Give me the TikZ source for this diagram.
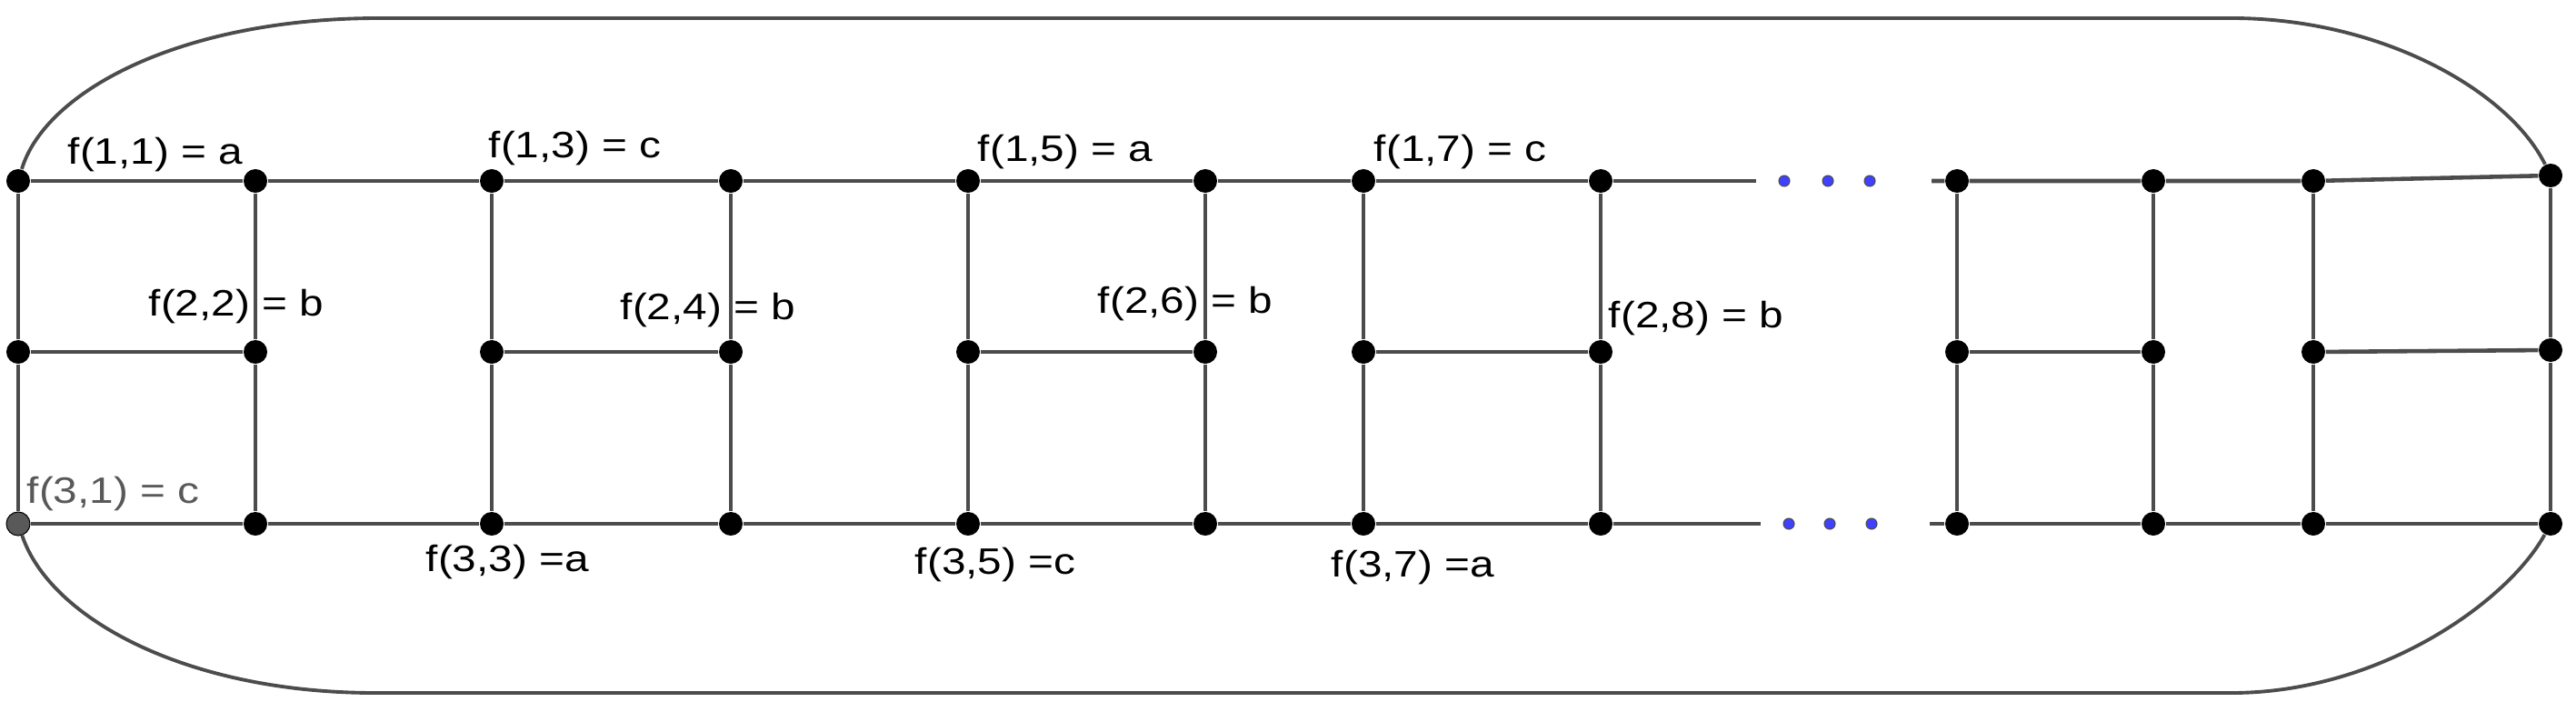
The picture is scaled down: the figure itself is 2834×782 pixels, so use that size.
\documentclass[tikz,border=0pt]{standalone}
\usepackage{fontspec}
\setmainfont{Liberation Sans}
\usetikzlibrary{calc}

\tikzset{
  vtx/.style={circle, fill=black, inner sep=0pt, minimum size=0.26cm},
  vtxgray/.style={vtx, fill=black!65, draw=black, line width=0.3pt},
  elldot/.style={circle, fill=blue!75!white, draw=black!70, line width=0.3pt, inner sep=0pt, minimum size=0.12cm},
  edge/.style={line width=1.3pt, draw=black!70},
  rim/.style={line width=1.1pt, draw=black!70},
  lbl/.style={inner sep=0pt, anchor=base west, xscale=1.18, font=\fontsize{11.5}{13}\selectfont},
}

\begin{document}
\begin{tikzpicture}[x=0.01cm, y=-0.01cm]
\useasboundingbox (0,0) rectangle (2834,782);
\node[vtx] (v-1-1) at (20,199) {};
\node[vtx] (v-2-1) at (20,387) {};
\node[vtxgray] (v-3-1) at (20,576) {};
\foreach \c/\x in {2/281,3/541,4/804,5/1065,6/1326,7/1500,8/1761,9/2153,10/2369,11/2545}{
  \node[vtx] (v-1-\c) at (\x,199) {};
  \node[vtx] (v-2-\c) at (\x,387) {};
  \node[vtx] (v-3-\c) at (\x,576) {};
}
\node[vtx] (v-1-12) at (2806,193) {};
\node[vtx] (v-2-12) at (2806,385) {};
\node[vtx] (v-3-12) at (2806,576) {};
\coordinate (e-1) at (1932,199);
\coordinate (e-3) at (1937,576);
\coordinate (s-1) at (2125,199);
\coordinate (s-3) at (2123,576);
\foreach \r in {1,3} {
  \draw[edge] (v-\r-1) -- (v-\r-2) -- (v-\r-3) -- (v-\r-4) -- (v-\r-5) -- (v-\r-6) -- (v-\r-7) -- (v-\r-8) -- (e-\r);
  \draw[edge] (s-\r) -- (v-\r-9) -- (v-\r-10) -- (v-\r-11) -- (v-\r-12);
}
\foreach \c in {1,...,12} \draw[edge] (v-1-\c) -- (v-2-\c) -- (v-3-\c);
\foreach \a/\b in {1/2,3/4,5/6,7/8,9/10,11/12} \draw[edge] (v-2-\a) -- (v-2-\b);
\foreach \i/\x in {1/1963,2/2011,3/2057} \node[elldot] (dt-\i) at (\x,199) {};
\foreach \i/\x in {1/1968,2/2013,3/2059} \node[elldot] (db-\i) at (\x,576) {};
\coordinate (tl) at (417,20);
\coordinate (tr) at (2455,20);
\coordinate (bl) at (413,762);
\coordinate (br) at (2455,762);
\draw[rim] (v-1-1) .. controls (50,100) and (200,20) .. (tl) -- (tr) .. controls (2620,20) and (2760,100) .. (v-1-12);
\draw[rim] (v-3-1) .. controls (55,680) and (205,762) .. (bl) -- (br) .. controls (2620,762) and (2760,660) .. (v-3-12);
\node[lbl] (l-1-1) at (74,180) {f(1,1) = a};
\node[lbl] (l-1-3) at (537,174) {f(1,3) = c};
\node[lbl] (l-1-5) at (1075,177) {f(1,5) = a};
\node[lbl] (l-1-7) at (1511,177) {f(1,7) = c};
\node[lbl] (l-2-2) at (163,347) {f(2,2) = b};
\node[lbl] (l-2-4) at (682,351) {f(2,4) = b};
\node[lbl] (l-2-6) at (1207,344) {f(2,6) = b};
\node[lbl] (l-2-8) at (1769,360) {f(2,8) = b};
\node[lbl, text=black!65] (l-3-1) at (29,553) {f(3,1) = c};
\node[lbl] (l-3-3) at (468,628) {f(3,3) =a};
\node[lbl] (l-3-5) at (1006,631) {f(3,5) =c};
\node[lbl] (l-3-7) at (1464,634) {f(3,7) =a};
\end{tikzpicture}
\end{document}
